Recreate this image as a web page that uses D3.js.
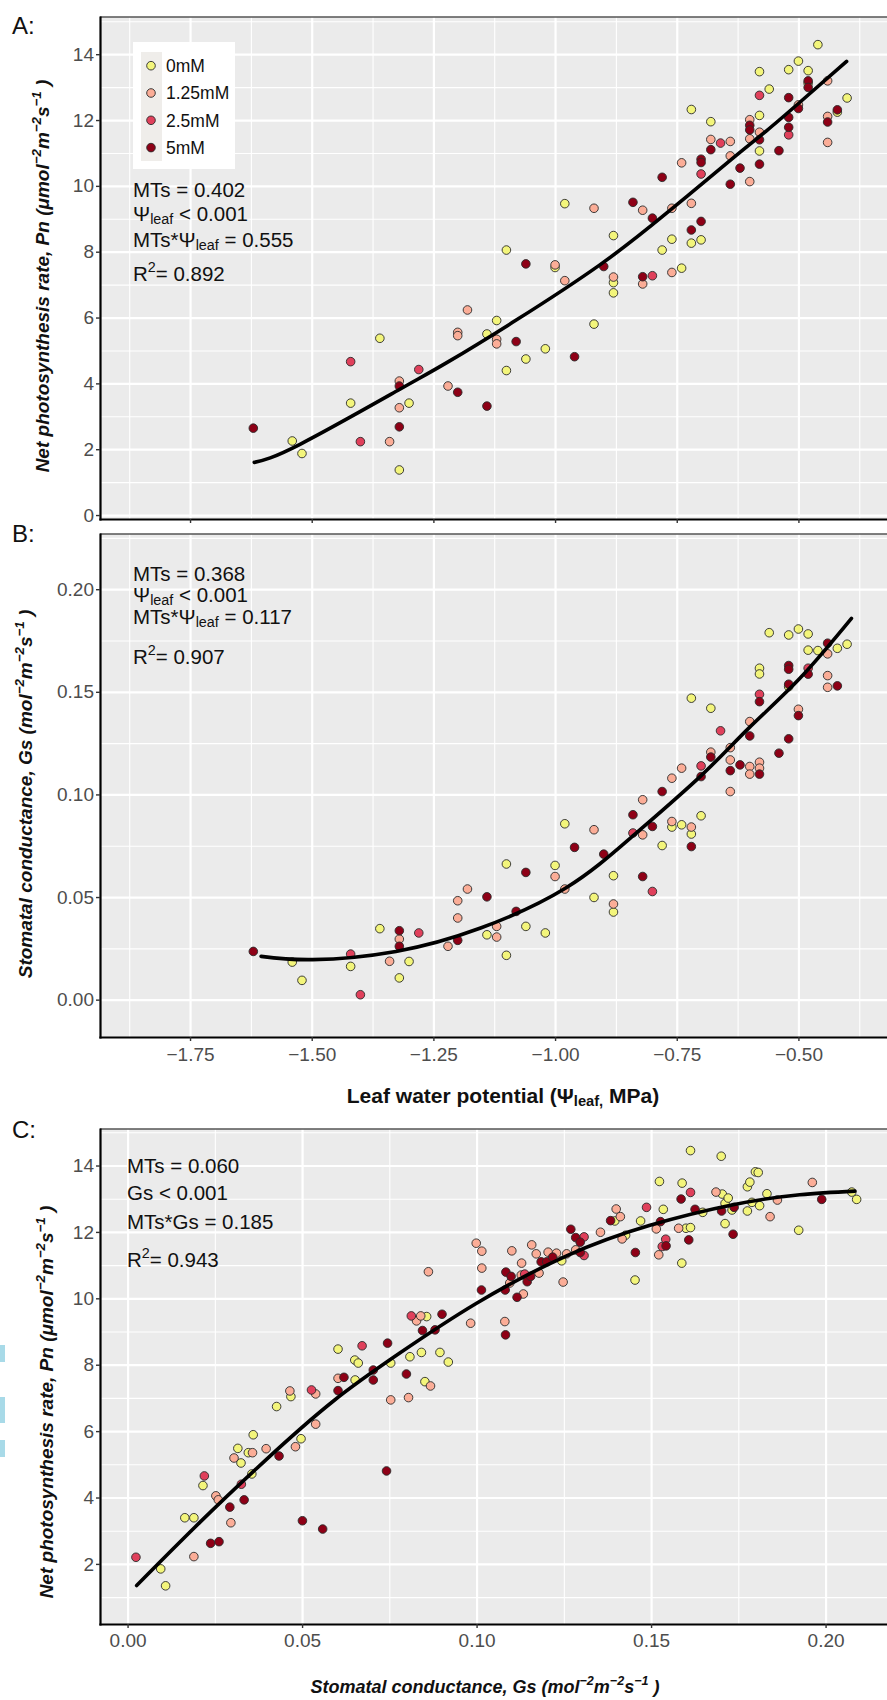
<!DOCTYPE html>
<html>
<head>
<meta charset="utf-8">
<script src="https://cdn.jsdelivr.net/npm/d3@7"></script>
<style>
  body { margin: 0; background: #fff; }
  svg { display: block; }
  text { font-family: "Liberation Sans", Arial, Helvetica, sans-serif; }
</style>
</head>
<body>
<svg id="fig" width="887" height="1700"></svg>
<script>
// treatments (legend)
var treatments = ["0mM", "1.25mM", "2.5mM", "5mM"];
var treatmentColors = ["#F3F57B", "#FBAD97", "#E0405B", "#8E0016"];

// tick values
var psiTicks = [-1.75, -1.5, -1.25, -1, -0.75, -0.5];
var psiMinor = [-1.875, -1.625, -1.375, -1.125, -0.875, -0.625, -0.375];
var pnTicks = [0, 2, 4, 6, 8, 10, 12, 14];
var pnMinor = [1, 3, 5, 7, 9, 11, 13, 15];
var pnTicksC = [2, 4, 6, 8, 10, 12, 14];
var gsTicks = [0, 0.05, 0.1, 0.15, 0.2];
var gsMinor = [0.025, 0.075, 0.125, 0.175, 0.225];

// panel A: leaf water potential vs Pn
var pnPsi_0mM = [[-1.54,2.25],[-1.52,1.87],[-1.42,3.40],[-1.36,5.37],[-1.32,1.37],[-1.30,3.40],[-1.14,5.50],[-1.12,5.91],
  [-1.10,4.39],[-1.06,4.74],[-1.02,5.05],[-0.92,5.80],[-1.10,8.05],[-1.00,7.52],[-0.98,9.46],[-0.88,8.49],[-0.88,7.06],
  [-0.88,6.75],[-0.78,8.05],[-0.76,8.38],[-0.74,7.50],[-0.72,12.32],[-0.72,8.26],[-0.70,8.36],[-0.68,11.95],[-0.58,13.47],
  [-0.58,12.14],[-0.58,11.06],[-0.56,12.94],[-0.52,13.53],[-0.50,13.79],[-0.48,13.50],[-0.48,13.12],[-0.46,14.29],
  [-0.42,12.24],[-0.40,12.67]];
var pnPsi_125mM = [[-1.34,2.23],[-1.32,4.07],[-1.32,3.26],[-1.22,3.92],[-1.20,5.55],[-1.20,5.45],[-1.18,6.23],[-1.12,5.34],
  [-1.12,5.20],[-1.00,7.60],[-0.98,7.12],[-0.92,9.32],[-0.88,7.23],[-0.82,9.26],[-0.82,7.02],[-0.76,9.32],[-0.76,7.37],
  [-0.74,10.70],[-0.72,9.47],[-0.68,11.41],[-0.64,11.35],[-0.64,10.91],[-0.60,12.01],[-0.60,11.43],[-0.60,10.13],
  [-0.58,11.63],[-0.50,12.46],[-0.44,13.19],[-0.44,12.11],[-0.44,11.32]];
var pnPsi_25mM = [[-1.42,4.66],[-1.40,2.23],[-1.28,4.42],[-0.80,7.27],[-0.70,10.36],[-0.66,11.30],[-0.58,12.75],[-0.52,11.55]];
var pnPsi_5mM = [[-1.62,2.64],[-1.32,3.92],[-1.32,2.68],[-1.20,3.73],[-1.14,3.31],[-1.08,5.27],[-0.96,4.81],[-1.06,7.63],
  [-0.90,7.55],[-0.84,9.50],[-0.82,7.24],[-0.80,9.02],[-0.78,10.26],[-0.72,8.66],[-0.70,10.81],[-0.70,10.71],[-0.70,8.92],
  [-0.68,11.10],[-0.64,10.05],[-0.62,10.54],[-0.60,11.84],[-0.60,11.70],[-0.58,11.40],[-0.58,10.66],[-0.54,11.07],
  [-0.52,12.68],[-0.52,12.08],[-0.52,11.78],[-0.50,12.35],[-0.48,13.19],[-0.48,12.99],[-0.44,11.94],[-0.42,12.31]];
var fitPnPsi = [[-1.618,1.60],[-1.524,2.15],[-1.319,3.82],[-1.219,4.66],[-1.079,5.93],[-0.908,7.60],[-0.771,9.17],
  [-0.634,10.85],[-0.565,11.68],[-0.497,12.54],[-0.401,13.78]];
var statsA = [[["MTs = 0.402"]], [["Ψ"], ["leaf", "sub"], [" < 0.001"]], [["MTs*Ψ"], ["leaf", "sub"], [" = 0.555"]], [["R"], ["2", "sup"], ["= 0.892"]]];

// panel B: leaf water potential vs Gs
var gsPsi_0mM = [[-1.54,0.0183],[-1.52,0.0094],[-1.42,0.0162],[-1.36,0.0346],[-1.32,0.0106],[-1.30,0.0186],[-1.14,0.0316],
  [-1.10,0.0661],[-1.10,0.0216],[-1.06,0.0357],[-1.02,0.0325],[-1.00,0.0654],[-0.98,0.0857],[-0.92,0.0498],[-0.88,0.0604],
  [-0.88,0.0427],[-0.78,0.0751],[-0.76,0.0841],[-0.74,0.0852],[-0.72,0.0807],[-0.70,0.0896],[-0.72,0.1469],[-0.68,0.1420],
  [-0.58,0.1615],[-0.58,0.1587],[-0.56,0.1788],[-0.52,0.1777],[-0.52,0.1525],[-0.50,0.1806],[-0.48,0.1782],[-0.48,0.1703],
  [-0.46,0.1701],[-0.42,0.1712],[-0.40,0.1732]];
var gsPsi_125mM = [[-1.34,0.0187],[-1.32,0.0295],[-1.22,0.0260],[-1.20,0.0482],[-1.20,0.0398],[-1.18,0.0539],[-1.12,0.0357],
  [-1.12,0.0305],[-1.00,0.0600],[-0.98,0.0539],[-0.92,0.0828],[-0.88,0.0466],[-0.82,0.0803],[-0.82,0.0974],[-0.76,0.0868],
  [-0.72,0.0841],[-0.76,0.1079],[-0.74,0.1128],[-0.68,0.1206],[-0.64,0.1228],[-0.64,0.1168],[-0.64,0.1014],[-0.60,0.1355],
  [-0.60,0.1136],[-0.60,0.1099],[-0.58,0.1157],[-0.58,0.1128],[-0.50,0.1415],[-0.44,0.1685],[-0.44,0.1579],[-0.44,0.1522]];
var gsPsi_25mM = [[-1.42,0.0222],[-1.40,0.0024],[-1.28,0.0325],[-0.84,0.0812],[-0.80,0.0527],[-0.70,0.1139],[-0.66,0.1310],
  [-0.58,0.1488],[-0.48,0.1615]];
var gsPsi_5mM = [[-1.62,0.0235],[-1.32,0.0336],[-1.32,0.0260],[-1.20,0.0289],[-1.14,0.0501],[-1.08,0.0430],[-1.06,0.0620],
  [-0.96,0.0742],[-0.90,0.0709],[-0.84,0.0901],[-0.82,0.0600],[-0.80,0.0844],[-0.72,0.0746],[-0.78,0.1014],[-0.70,0.1087],
  [-0.68,0.1182],[-0.64,0.1116],[-0.62,0.1144],[-0.60,0.1285],[-0.58,0.1452],[-0.58,0.1099],[-0.54,0.1201],[-0.52,0.1628],
  [-0.52,0.1610],[-0.52,0.1537],[-0.52,0.1271],[-0.50,0.1384],[-0.48,0.1586],[-0.44,0.1737],[-0.42,0.1529]];
var fitGsPsi = [[-1.604,0.0211],[-1.498,0.0195],[-1.327,0.0235],[-1.153,0.0349],[-0.978,0.0544],[-0.839,0.0800],
  [-0.702,0.1087],[-0.602,0.1323],[-0.497,0.1566],[-0.391,0.1858]];
var statsB = [[["MTs = 0.368"]], [["Ψ"], ["leaf", "sub"], [" < 0.001"]], [["MTs*Ψ"], ["leaf", "sub"], [" = 0.117"]], [["R"], ["2", "sup"], ["= 0.907"]]];

// panel C: Gs vs Pn
var pnGs_0mM = [[0.0095,1.85],[0.0109,1.34],[0.0164,3.39],[0.0190,3.39],[0.0216,4.36],[0.0316,5.48],[0.0325,5.04],[0.0346,5.35],
  [0.0360,5.89],[0.0356,4.71],[0.0427,6.74],[0.0468,7.04],[0.0497,5.77],[0.0603,8.47],[0.0651,8.14],[0.0661,8.05],[0.0754,8.05],
  [0.0809,8.24],[0.0842,8.37],[0.0895,8.37],[0.0919,8.08],[0.0652,7.54],[0.0857,9.45],[0.0852,7.49],[0.1244,11.13],[0.1396,12.33],
  [0.1427,11.90],[0.1454,10.55],[0.1470,12.33],[0.1524,13.52],[0.1535,12.68],[0.1588,11.06],[0.1589,13.47],[0.1600,12.11],
  [0.1613,12.13],[0.1613,14.45],[0.1648,12.59],[0.1701,14.28],[0.1704,13.14],[0.1712,12.86],[0.1712,12.25],[0.1721,13.02],
  [0.1732,12.66],[0.1776,13.36],[0.1776,12.63],[0.1783,13.50],[0.1789,12.89],[0.1799,13.81],[0.1807,13.79],[0.1811,12.79],
  [0.1832,13.15],[0.1923,12.05],[0.2075,13.20],[0.2089,12.98]];
var pnGs_125mM = [[0.0190,2.22],[0.0253,4.05],[0.0260,3.93],[0.0296,3.24],[0.0305,5.19],[0.0358,5.35],[0.0397,5.47],[0.0465,7.21],
  [0.0481,5.53],[0.0539,7.12],[0.0539,6.21],[0.0754,6.94],[0.0805,7.01],[0.0862,10.80],[0.0828,9.32],[0.0840,9.47],[0.0603,7.59],
  [0.0868,7.36],[0.0983,9.25],[0.0999,11.66],[0.1015,11.42],[0.1015,10.91],[0.1081,9.30],[0.1095,10.46],[0.1101,11.43],
  [0.1128,10.70],[0.1129,11.06],[0.1134,10.13],[0.1158,11.61],[0.1171,11.34],[0.1179,10.76],[0.1205,11.39],[0.1229,11.36],
  [0.1248,10.49],[0.1258,11.34],[0.1284,11.46],[0.1355,11.99],[0.1400,12.69],[0.1412,12.46],[0.1417,11.79],[0.1515,12.09],
  [0.1522,11.31],[0.1579,12.11],[0.1686,13.20],[0.1841,12.46],[0.1862,12.96],[0.1962,13.49]];
var pnGs_25mM = [[0.0024,2.20],[0.0220,4.65],[0.0326,4.40],[0.0527,7.24],[0.0672,8.57],[0.0813,9.47],[0.1138,10.73],
  [0.1308,11.85],[0.1308,11.29],[0.1487,12.74],[0.1532,11.56],[0.1542,11.78],[0.1613,13.19]];
var pnGs_5mM = [[0.0238,2.62],[0.0262,2.67],[0.0293,3.71],[0.0334,3.93],[0.0434,5.25],[0.0501,3.30],[0.0559,3.05],[0.0603,7.22],
  [0.0620,7.62],[0.0704,7.84],[0.0704,7.54],[0.0742,4.80],[0.0745,8.65],[0.0799,7.72],[0.0845,9.03],[0.0881,9.05],[0.0901,9.52],
  [0.1014,10.25],[0.1082,10.25],[0.1083,8.90],[0.1084,10.79],[0.1099,10.66],[0.1116,10.03],[0.1145,10.50],[0.1155,10.66],
  [0.1185,11.10],[0.1201,11.10],[0.1218,11.24],[0.1270,12.08],[0.1284,11.83],[0.1297,11.69],[0.1297,11.38],[0.1384,12.34],
  [0.1455,11.38],[0.1527,12.31],[0.1543,11.58],[0.1586,12.99],[0.1608,11.76],[0.1626,12.68],[0.1702,12.63],[0.1735,11.93],
  [0.1738,12.74],[0.1989,12.98]];
var fitPnGs = [[0.0026,1.35],[0.0207,3.25],[0.0398,5.15],[0.0589,6.90],[0.078,8.35],[0.1,9.85],[0.1258,11.28],[0.1497,12.20],
  [0.1735,12.82],[0.1926,13.12],[0.2084,13.23]];
var statsC = [[["MTs = 0.060"]], [["Gs < 0.001"]], [["MTs*Gs = 0.185"]], [["R"], ["2", "sup"], ["= 0.943"]]];

var svg = d3.select("#fig");
var L = 100, R = 887;
var fmt2 = d3.format(".2f"), fmt0 = d3.format("d");

svg.append("rect").attr("width", 887).attr("height", 1700).attr("fill", "#fff");

// light blue bits at the left edge of the source image
[[1345, 17], [1397, 26], [1440, 17]].forEach(function(b) {
  svg.append("rect").attr("x", 0).attr("y", b[0]).attr("width", 5).attr("height", b[1]).attr("fill", "#A8DAE8");
});

function richText(parent, x, y, segs, size) {
  var t = parent.append("text").attr("x", x).attr("y", y).attr("font-size", size);
  var shift = 0;
  segs.forEach(function(s) {
    var target = s[1] === "sub" ? size * 0.14 : s[1] === "sup" ? -size * 0.42 : 0;
    var ts = t.append("tspan").attr("dy", target - shift).text(s[0]);
    if (s[1]) ts.attr("font-size", size * 0.7);
    shift = target;
  });
  return t;
}

function panel(opt) {
  var x = d3.scaleLinear().domain(opt.xDomain).range([L, R]);
  var y = d3.scaleLinear().domain(opt.yDomain).range([opt.bottom, opt.top]);
  var h = opt.bottom - opt.top;
  var g = svg.append("g");

  g.append("rect").attr("x", L).attr("y", opt.top).attr("width", R - L).attr("height", h).attr("fill", "#EBEBEB");

  function grid(axis, tr, w) {
    g.append("g").attr("transform", tr).call(axis)
      .call(function(a) { a.select(".domain").remove(); })
      .selectAll("line").attr("stroke", "#fff").attr("stroke-width", w);
  }
  grid(d3.axisBottom(x).tickValues(opt.xMinor).tickSize(-h).tickFormat(""), "translate(0," + opt.bottom + ")", 1.1);
  grid(d3.axisLeft(y).tickValues(opt.yMinor).tickSize(-(R - L)).tickFormat(""), "translate(" + L + ",0)", 1.1);
  grid(d3.axisBottom(x).tickValues(opt.xTicks).tickSize(-h).tickFormat(""), "translate(0," + opt.bottom + ")", 2.2);
  grid(d3.axisLeft(y).tickValues(opt.yTicks).tickSize(-(R - L)).tickFormat(""), "translate(" + L + ",0)", 2.2);

  opt.series.forEach(function(pts, i) {
    g.append("g").selectAll("circle").data(pts).join("circle")
      .attr("cx", function(d) { return x(d[0]); })
      .attr("cy", function(d) { return y(d[1]); })
      .attr("r", 4.3)
      .attr("fill", treatmentColors[i])
      .attr("stroke", "#2a2a2a")
      .attr("stroke-width", 0.9);
  });

  g.append("path").datum(opt.fit)
    .attr("d", d3.line().x(function(d) { return x(d[0]); }).y(function(d) { return y(d[1]); }).curve(d3.curveNatural))
    .attr("fill", "none").attr("stroke", "#000").attr("stroke-width", 3.6).attr("stroke-linecap", "round");

  g.append("line").attr("x1", L).attr("x2", R).attr("y1", opt.top).attr("y2", opt.top)
    .attr("stroke", "#555").attr("stroke-width", 1.6);

  function styleAxis(a) {
    a.attr("font-family", null).attr("font-size", null);
    a.select(".domain").attr("stroke", "#000").attr("stroke-width", 2.2).attr("stroke-linecap", "square");
    a.selectAll(".tick line").attr("stroke", "#333").attr("stroke-width", 1.4);
    a.selectAll(".tick text").attr("fill", "#4D4D4D").attr("font-size", 19);
  }
  g.append("g").attr("transform", "translate(" + L + ",0)")
    .call(d3.axisLeft(y).tickValues(opt.yTicks).tickFormat(opt.yFormat).tickSize(4).tickPadding(2).tickSizeOuter(0))
    .call(styleAxis);
  g.append("g").attr("transform", "translate(0," + opt.bottom + ")")
    .call(d3.axisBottom(x).tickValues(opt.xTicks).tickFormat(opt.xFormat || "").tickSize(4).tickPadding(opt.xPad || 6).tickSizeOuter(0))
    .call(styleAxis);

  // statistics text
  opt.stats.forEach(function(line, i) {
    richText(g, opt.statX, opt.statY[i], line, 20.5).attr("fill", "#111");
  });

  // panel letter
  g.append("text").attr("x", 12).attr("y", opt.letterY).attr("font-size", 24).attr("fill", "#111").text(opt.letter);

  // rotated y title
  var yt = g.append("g").attr("transform", "translate(" + opt.yTitleX + "," + opt.yTitleY + ") rotate(-90)");
  richText(yt, 0, 0, opt.yTitle, 19)
    .attr("text-anchor", "middle").attr("font-weight", "bold").attr("font-style", "italic").attr("fill", "#111");
  return g;
}

var gA = panel({
  top: 17, bottom: 519, xDomain: [-1.935, -0.318], yDomain: [-0.12, 15.13],
  xTicks: psiTicks, xMinor: psiMinor, yTicks: pnTicks, yMinor: pnMinor, yFormat: fmt0,
  series: [pnPsi_0mM, pnPsi_125mM, pnPsi_25mM, pnPsi_5mM], fit: fitPnPsi,
  stats: statsA, statX: 133, statY: [197, 221, 247, 281],
  letter: "A:", letterY: 34,
  yTitleX: 49, yTitleY: 276,
  yTitle: [["Net photosynthesis rate, "], ["Pn"], [" (μmol"], ["−2", "sup"], ["m"], ["−2", "sup"], ["s"], ["−1", "sup"], [" )"]]
});

// legend inside panel A
var leg = gA.append("g");
leg.append("rect").attr("x", 133).attr("y", 42).attr("width", 102).attr("height", 127).attr("fill", "#fff");
leg.append("rect").attr("x", 141).attr("y", 52).attr("width", 21).attr("height", 109).attr("fill", "#EFEDEA");
treatments.forEach(function(t, i) {
  var cy = 65.7 + i * 27.3;
  leg.append("circle").attr("cx", 151).attr("cy", cy).attr("r", 4.3)
    .attr("fill", treatmentColors[i]).attr("stroke", "#2a2a2a").attr("stroke-width", 0.9);
  leg.append("text").attr("x", 166).attr("y", cy + 6.4).attr("font-size", 17.5).attr("fill", "#111").text(t);
});

panel({
  top: 534, bottom: 1037, xDomain: [-1.935, -0.318], yDomain: [-0.0182, 0.2269],
  xTicks: psiTicks, xMinor: psiMinor, yTicks: gsTicks, yMinor: gsMinor, yFormat: fmt2, xFormat: fmt2, xPad: 7,
  series: [gsPsi_0mM, gsPsi_125mM, gsPsi_25mM, gsPsi_5mM], fit: fitGsPsi,
  stats: statsB, statX: 133, statY: [581, 602, 624, 664],
  letter: "B:", letterY: 542,
  yTitleX: 32, yTitleY: 794,
  yTitle: [["Stomatal conductance, Gs (mol"], ["−2", "sup"], ["m"], ["−2", "sup"], ["s"], ["−1", "sup"], [" )"]]
});

svg.append("g").attr("transform", "translate(503,1103)")
  .call(function(g) {
    richText(g, 0, 0, [["Leaf water potential (Ψ"], ["leaf,", "sub"], [" MPa)"]], 21)
      .attr("text-anchor", "middle").attr("font-weight", "bold").attr("fill", "#111");
  });

panel({
  top: 1129, bottom: 1624, xDomain: [-0.0079, 0.2176], yDomain: [0.19, 15.1],
  xTicks: gsTicks, xMinor: gsMinor, yTicks: pnTicksC, yMinor: pnMinor, yFormat: fmt0, xFormat: fmt2, xPad: 6,
  series: [pnGs_0mM, pnGs_125mM, pnGs_25mM, pnGs_5mM], fit: fitPnGs,
  stats: statsC, statX: 127, statY: [1173, 1200, 1229, 1267],
  letter: "C:", letterY: 1138,
  yTitleX: 53, yTitleY: 1402,
  yTitle: [["Net photosynthesis rate, "], ["Pn"], [" (μmol"], ["−2", "sup"], ["m"], ["−2", "sup"], ["s"], ["−1", "sup"], [" )"]]
});

svg.append("g").attr("transform", "translate(485,1693)")
  .call(function(g) {
    richText(g, 0, 0, [["Stomatal conductance, Gs (mol"], ["−2", "sup"], ["m"], ["−2", "sup"], ["s"], ["−1", "sup"], [" )"]], 18)
      .attr("text-anchor", "middle").attr("font-weight", "bold").attr("font-style", "italic").attr("fill", "#111");
  });
</script>
</body>
</html>
